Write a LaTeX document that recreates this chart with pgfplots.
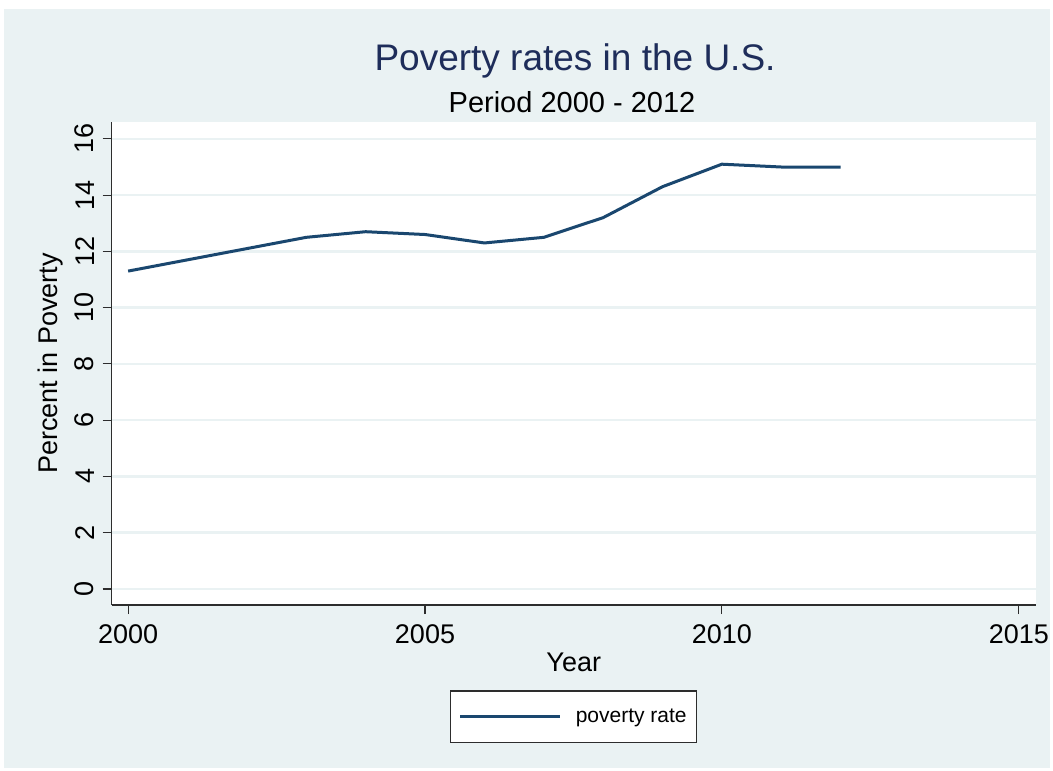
\documentclass[border=0pt]{standalone}
\usepackage{fontspec}
\setmainfont{Liberation Sans}
\usepackage{pgfplots}
\pgfplotsset{compat=1.18}
\definecolor{bgc}{RGB}{234,242,243}
\definecolor{gridc}{RGB}{234,242,243}
\definecolor{navy}{RGB}{26,71,111}
\definecolor{titlec}{RGB}{30,45,90}
\definecolor{axc}{RGB}{45,45,45}
\begin{document}
\begin{tikzpicture}
\fill[white] (0bp,0bp) rectangle (1053bp,771bp);
\fill[bgc] (4bp,3bp) rectangle (1050bp,762bp);
\node[anchor=base, text=titlec, font=\fontsize{37bp}{44bp}\selectfont, inner sep=0] at (575bp,700bp) {Poverty rates in the U.S.};
\node[anchor=base, font=\fontsize{29bp}{35bp}\selectfont, inner sep=0] at (572bp,658bp) {Period 2000 - 2012};
\begin{axis}[at={(111.5bp,166bp)}, anchor=south west,
  width=924.5bp, height=483bp, scale only axis,
  xmin=1999.72, xmax=2015.29, ymin=-0.57, ymax=16.6,
  xtick={2000,2005,2010,2015}, ytick={0,2,...,16},
  axis x line*=bottom, axis y line*=left,
  axis line style={axc, line width=1.3bp, -},
  axis background/.style={fill=white},
  tick align=outside, major tick length=9bp,
  tick style={axc, line width=1.1bp},
  ymajorgrids, grid style={gridc, line width=2.5bp},
  /pgf/number format/1000 sep={}, /pgf/number format/assume math mode=true,
  ticklabel style={font=\fontsize{27bp}{32bp}\selectfont},
  yticklabel style={rotate=90, anchor=south},
  yticklabel shift=5bp, xticklabel shift=7bp,
  xlabel={Year}, ylabel={Percent in Poverty},
  label style={font=\fontsize{27bp}{32bp}\selectfont},
  xlabel style={at={(axis description cs:0.5,-0.1387)}, anchor=base},
  ylabel style={at={(axis description cs:-0.0665,0.5)}, anchor=center},
  legend style={at={(0.5,-0.231)}, anchor=center, draw=axc, line width=1.2bp,
    fill=white, inner xsep=8bp, inner ysep=16bp,
    font=\fontsize{21bp}{25bp}\selectfont,
    /tikz/every odd column/.append style={column sep=12bp}},
  legend image code/.code={\draw[#1, line width=3bp] (0bp,0bp) -- (100bp,0bp);},
]
\addplot[navy, line width=3bp] coordinates {
(2000,11.3) (2001,11.7) (2002,12.1) (2003,12.5) (2004,12.7) (2005,12.6)
(2006,12.3) (2007,12.5) (2008,13.2) (2009,14.3) (2010,15.1) (2011,15.0) (2012,15.0)};
\addlegendentry{poverty rate\hspace{11bp}}
\end{axis}
\end{tikzpicture}
\end{document}
